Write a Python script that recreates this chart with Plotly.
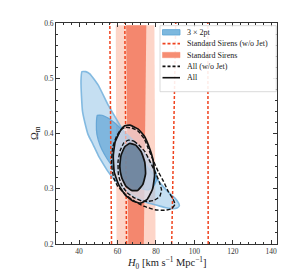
import plotly.graph_objects as go

# ---------------- data ----------------
# 3x2pt 95% contour (H0, Omega_m)
blue95_h0 = [41.5, 43.5, 45.6, 49.9, 55.1, 58.6, 62.1, 65.5, 69.0, 72.5, 76.0, 79.5, 83.0, 86.5, 89.9, 91.8,
             92.2, 91.0, 87.5, 84.7, 80.5, 76.0, 71.5, 67.3, 64.2, 61.2, 58.0, 55.1, 52.4, 49.9, 47.3,
             44.7, 43.0, 41.8, 41.3, 41.0, 41.5]
blue95_om = [0.512, 0.512, 0.508, 0.488, 0.452, 0.431, 0.410, 0.391, 0.373, 0.355, 0.337, 0.322, 0.307, 0.294,
             0.283, 0.274, 0.269, 0.265, 0.264, 0.266, 0.270, 0.274, 0.281, 0.289, 0.297, 0.307, 0.318,
             0.331, 0.346, 0.361, 0.380, 0.398, 0.420, 0.440, 0.465, 0.495, 0.512]
# 3x2pt 68% contour
blue68_h0 = [49.5, 52.0, 55.1, 58.6, 62.1, 65.5, 69.0, 72.5, 76.0, 78.5, 80.0, 80.4, 78.5, 76.0, 72.5,
             69.0, 65.6, 62.0, 58.6, 55.8, 53.4, 51.0, 49.3, 49.0, 49.5]
blue68_om = [0.433, 0.433, 0.428, 0.419, 0.408, 0.397, 0.385, 0.371, 0.355, 0.341, 0.329, 0.316, 0.303,
             0.298, 0.300, 0.305, 0.312, 0.322, 0.335, 0.348, 0.361, 0.378, 0.398, 0.418, 0.433]

# Standard sirens bands: [left_bottom, left_top, right_bottom, right_top]
sirens95 = [59.5, 59.1, 79.8, 79.2]
sirens68 = [65.6, 64.5, 73.7, 75.0]
sirens_om = [0.2, 0.596]
# Standard sirens (w/o Jet) contour lines: (bottom, top) H0 positions
nojet_lines = [(56.9, 56.0), (64.7, 63.8), (88.2, 90.3), (107.2, 107.0)]
nojet_om = [0.2, 0.6]

# All (w/o Jet) contours
allnj95_h0 = [63.8, 67.5, 70.8, 74.0, 76.0, 78.5, 81.2, 84.0, 86.4, 88.8, 89.9, 88.2, 84.5, 79.5, 74.0,
              69.0, 64.0, 60.0, 58.0, 56.9, 57.5, 59.5, 61.5, 63.8]
allnj95_om = [0.411, 0.410, 0.404, 0.390, 0.373, 0.352, 0.331, 0.313, 0.295, 0.282, 0.272, 0.264, 0.261,
              0.262, 0.268, 0.277, 0.290, 0.305, 0.320, 0.345, 0.375, 0.395, 0.406, 0.411]
allnj68_h0 = [65.6, 68.5, 71.5, 74.3, 76.8, 79.5, 81.8, 82.9, 82.0, 79.0, 75.5, 72.5, 68.5, 65.0, 62.1,
              60.5, 60.3, 61.5, 63.3, 65.6]
allnj68_om = [0.388, 0.386, 0.378, 0.367, 0.350, 0.331, 0.312, 0.298, 0.286, 0.279, 0.277, 0.278, 0.284,
              0.293, 0.307, 0.325, 0.350, 0.370, 0.383, 0.388]
# All contours
all95_h0 = [66.5, 70.8, 74.0, 76.5, 78.5, 79.3, 78.3, 75.5, 72.0, 68.0, 64.0, 60.5, 58.3, 57.8, 58.8,
            61.5, 63.8, 66.5]
all95_om = [0.415, 0.408, 0.395, 0.375, 0.352, 0.325, 0.300, 0.281, 0.274, 0.278, 0.289, 0.308, 0.330,
            0.360, 0.385, 0.405, 0.414, 0.415]
all68_h0 = [66.4, 69.5, 72.3, 74.2, 74.6, 73.2, 70.5, 67.3, 64.3, 62.2, 61.2, 61.8, 63.8, 66.4]
all68_om = [0.382, 0.379, 0.367, 0.348, 0.327, 0.308, 0.297, 0.297, 0.305, 0.320, 0.340, 0.360, 0.376, 0.382]

legend_labels = ["3 × 2pt", "Standard Sirens (w/o Jet)", "Standard Sirens", "All (w/o Jet)", "All"]

x_ticks = [40, 60, 80, 100, 120, 140]
y_ticks = [0.2, 0.3, 0.4, 0.5, 0.6]

# ---------------- styles ----------------
FONT = "Liberation Serif"
BLUE95_FILL = "rgba(140,192,230,0.50)"
BLUE95_LINE = "rgba(120,180,222,0.9)"
BLUE68_FILL = "rgba(70,148,205,0.55)"
BLUE68_LINE = "rgba(95,162,212,0.9)"
RED95_FILL = "rgba(250,155,125,0.42)"
RED68_FILL = "rgba(240,105,75,0.72)"
RED_LINE = "#f0431e"
ALL95_FILL = "rgba(238,228,234,0.62)"
ALL68_FILL = "rgba(100,124,150,0.85)"

fig = go.Figure()

def poly(x, y, fill, line_color, width, dash="solid", smooth=True):
    fig.add_trace(go.Scatter(
        x=x, y=y, mode="lines", fill="toself" if fill else None,
        fillcolor=fill, showlegend=False, hoverinfo="skip",
        line=dict(color=line_color, width=width, dash=dash,
                  shape="spline" if smooth else "linear", smoothing=0.4)))

# Standard sirens bands
for band, col in [(sirens95, RED95_FILL), (sirens68, RED68_FILL)]:
    lb, lt, rb, rt = band
    poly([lb, rb, rt, lt, lb], [sirens_om[0], sirens_om[0], sirens_om[1], sirens_om[1], sirens_om[0]],
         col, "rgba(0,0,0,0)", 0, smooth=False)

# 3x2pt
poly(blue95_h0, blue95_om, BLUE95_FILL, BLUE95_LINE, 1.6)
poly(blue68_h0, blue68_om, BLUE68_FILL, BLUE68_LINE, 1.2)

# Standard sirens w/o jet dashed lines
for xb, xt in nojet_lines:
    fig.add_trace(go.Scatter(x=[xb, xt], y=nojet_om, mode="lines", showlegend=False, hoverinfo="skip",
                             line=dict(color=RED_LINE, width=1.5, dash="3px,2px")))

# All filled
poly(all95_h0, all95_om, ALL95_FILL, "rgba(0,0,0,0)", 0)
poly(all68_h0, all68_om, ALL68_FILL, "rgba(0,0,0,0)", 0)
# All (w/o Jet) dashed
poly(allnj95_h0, allnj95_om, None, "#111111", 1.4, dash="4px,2px")
poly(allnj68_h0, allnj68_om, None, "#111111", 1.4, dash="4px,2px")
# All solid
poly(all95_h0, all95_om, None, "#111111", 1.7)
poly(all68_h0, all68_om, None, "#111111", 1.7)

# ---------------- layout ----------------
W, H = 300, 270
ML, MR, MT, MB = 48, 31, 15, 34
PW, PH = W - ML - MR, H - MT - MB

def pxx(px):
    return (px - ML) / PW

def pxy(py):
    return 1 - (py - MT) / PH

shapes = []
annotations = []
# legend box
shapes.append(dict(type="rect", xref="paper", yref="paper", x0=pxx(152), x1=pxx(268.3), y0=pxy(83.7),
                   y1=pxy(17.7), fillcolor="rgba(255,255,255,0.9)", line=dict(color="#d0d0d0", width=0.8),
                   layer="above"))
row0, drow = 24.3, 11.35
sx0, sx1, tx = 154.5, 172, 176.5
for i, lab in enumerate(legend_labels):
    yc = row0 + i * drow
    if i == 0:
        shapes.append(dict(type="rect", xref="paper", yref="paper", x0=pxx(sx0), x1=pxx(sx1),
                           y0=pxy(yc + 2.7), y1=pxy(yc - 2.7), fillcolor="#7db8de",
                           line=dict(color="#5aa3d3", width=0.8), layer="above"))
    elif i == 2:
        shapes.append(dict(type="rect", xref="paper", yref="paper", x0=pxx(sx0), x1=pxx(sx1),
                           y0=pxy(yc + 2.7), y1=pxy(yc - 2.7), fillcolor="#f68d72",
                           line=dict(color="#f68d72", width=0.5), layer="above"))
    else:
        col = RED_LINE if i == 1 else "#111111"
        dash = "3px,2px" if i in (1, 3) else "solid"
        shapes.append(dict(type="line", xref="paper", yref="paper", x0=pxx(sx0), x1=pxx(sx1),
                           y0=pxy(yc), y1=pxy(yc), line=dict(color=col, width=1.6, dash=dash),
                           layer="above"))
    annotations.append(dict(text=lab, xref="paper", yref="paper", x=pxx(tx), y=pxy(yc), xanchor="left",
                            yanchor="middle", showarrow=False, font=dict(family=FONT, size=8, color="#222222")))

# axis titles
annotations.append(dict(text="<i>H</i><sub>0</sub> [km s<sup>−1</sup> Mpc<sup>−1</sup>]", xref="paper",
                        yref="paper", x=pxx(159), y=pxy(255), xanchor="center", yanchor="middle",
                        showarrow=False, font=dict(family=FONT, size=10.5, color="#222222")))
annotations.append(dict(text="Ω<sub>m</sub>", xref="paper", yref="paper", x=pxx(27), y=pxy(125),
                        xanchor="center", yanchor="middle", textangle=-90, showarrow=False,
                        font=dict(family=FONT, size=10.5, color="#222222")))

axis_common = dict(showgrid=False, zeroline=False, showline=True, linecolor="#333333", linewidth=1,
                   mirror="ticks", ticks="inside", ticklen=4, tickwidth=1, tickcolor="#333333",
                   tickfont=dict(family=FONT, size=7.5, color="#333333"))

fig.update_layout(
    width=W, height=H, margin=dict(l=ML, r=MR, t=MT, b=MB),
    paper_bgcolor="white", plot_bgcolor="white",
    xaxis=dict(range=[28, 143], tickvals=x_ticks, ticktext=[str(v) for v in x_ticks],
               minor=dict(ticks="inside", ticklen=2.2, dtick=4, tickcolor="#333333", tickwidth=0.8),
               **axis_common),
    yaxis=dict(range=[0.2, 0.6], tickvals=y_ticks, ticktext=[f"{v:.1f}" for v in y_ticks],
               minor=dict(ticks="inside", ticklen=2.2, dtick=0.02, tickcolor="#333333", tickwidth=0.8),
               **axis_common),
    shapes=shapes, annotations=annotations, showlegend=False,
)

fig.write_html("out.html")
